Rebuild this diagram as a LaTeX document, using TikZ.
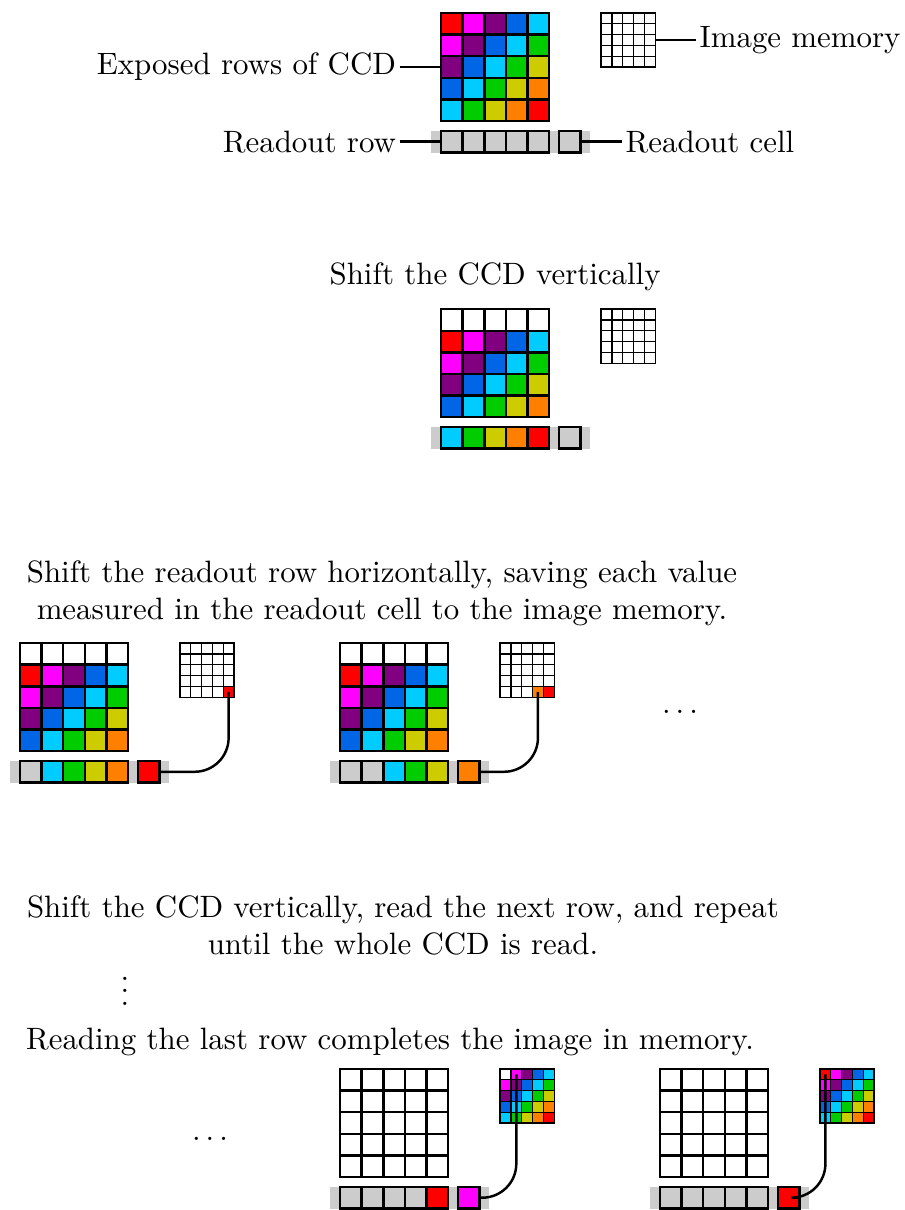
\documentclass[tikz,border=0pt]{standalone}
\usetikzlibrary{positioning}

\definecolor{pal0}{RGB}{255,0,0}
\definecolor{pal1}{RGB}{255,0,255}
\definecolor{pal2}{RGB}{128,0,128}
\definecolor{pal3}{RGB}{0,102,230}
\definecolor{pal4}{RGB}{0,204,255}
\definecolor{pal5}{RGB}{0,204,0}
\definecolor{pal6}{RGB}{204,204,0}
\definecolor{pal7}{RGB}{255,128,0}
\definecolor{pal8}{RGB}{255,0,0}
\definecolor{pal99}{RGB}{255,255,255}
\definecolor{rdgray}{RGB}{204,204,204}

% #1 name, (#2,#3) top left, #4 rows shifted out, #5 readout row, #6 readout cell, #7 values in memory
\newcommand{\ccdframe}[7]{%
  \fill[rdgray] (#2-0.45,#3-5.45) rectangle (#2+6.9,#3-6.45);
  \foreach \ro in {1,...,5}
    \foreach \co in {1,...,5} {
      \pgfmathtruncatemacro{\k}{\ro>#4 ? \ro-#4+\co-2 : 99}
      \node[ccdcell, fill=pal\k] (#1-\ro-\co) at (#2+\co-0.5,#3-\ro+0.5) {};
    }
  \foreach \fc [count=\co] in {#5}
    \node[ccdcell, fill=\fc] (#1r-\co) at (#2+\co-0.5,#3-5.95) {};
  \node[ccdcell, fill=#6] (#1rc) at (#2+5.95,#3-5.95) {};
  \foreach \ro in {1,...,5}
    \foreach \co in {1,...,5} {
      \pgfmathtruncatemacro{\k}{(5-\ro)*5+6-\co<=#7 ? \ro+\co-2 : 99}
      \node[memcell, fill=pal\k] (#1m-\ro-\co) at (#2+7.4+\co/2-0.25,#3-\ro/2+0.25) {};
    }
}

\begin{document}
\begin{tikzpicture}[x=7pt, y=7pt,
    ccdcell/.style = {draw, thick, minimum size=7pt, inner sep=0pt},
    memcell/.style = {draw, thin, minimum size=3.5pt, inner sep=0pt},
    lbl/.style = {inner sep=1pt},
    wire/.style = {draw, thick, rounded corners=11pt}]
  \useasboundingbox (0,0) rectangle (41.8,-55.94);

  % exposed CCD
  \ccdframe{a}{20.39}{-0.6}{0}{rdgray,rdgray,rdgray,rdgray,rdgray}{rdgray}{0}
  \node[lbl, left=13pt of a-3-1] (expo) {Exposed rows of CCD};
  \node[lbl, left=13pt of ar-1] (rorow) {Readout row};
  \node[lbl, right=13pt of arc] (rocell) {Readout cell};
  \node[lbl, right=13pt of am-3-5] (imgmem) {Image memory};
  \begin{scope}[every path/.style = {draw, thick}]
    \path (expo) -- (a-3-1);
    \path (rorow) -- (ar-1);
    \path (arc) -- (rocell);
    \path (am-3-5) -- (imgmem);
  \end{scope}

  % vertical shift
  \node (t2) at (22.89,-12.8) {Shift the CCD vertically};
  \ccdframe{b}{20.39}{-14.29}{1}{pal4,pal5,pal6,pal7,pal8}{rdgray}{0}

  % horizontal shift
  \node[align=center] (t3) at (17.66,-27.42) {Shift the readout row horizontally, saving each value\\
    measured in the readout cell to the image memory.};
  \ccdframe{c}{0.92}{-29.73}{1}{rdgray,pal4,pal5,pal6,pal7}{pal8}{1}
  \ccdframe{d}{15.72}{-29.73}{1}{rdgray,rdgray,pal4,pal5,pal6}{pal7}{2}
  \node (dots1) at (31.44,-32.92) {$\ldots$};
  \path[wire] (crc) -| (cm-5-5.center);
  \path[wire] (drc) -| (dm-5-4.center);

  % repeat
  \node[align=center] (t4) at (18.63,-42.77) {Shift the CCD vertically, read the next row, and repeat\\
    until the whole CCD is read.};
  \node (vd) at (5.78,-45.4) {$\vdots$};
  \node (t5) at (18.03,-48.15) {Reading the last row completes the image in memory.};
  \node (dots2) at (9.71,-52.66) {$\ldots$};
  \ccdframe{e}{15.72}{-49.42}{5}{rdgray,rdgray,rdgray,rdgray,pal0}{pal1}{24}
  \ccdframe{f}{30.51}{-49.42}{5}{rdgray,rdgray,rdgray,rdgray,rdgray}{pal0}{25}
  \path[wire] (erc) -| (em-1-2.center);
  \path[wire] (frc) -| (fm-1-1.center);
\end{tikzpicture}
\end{document}
